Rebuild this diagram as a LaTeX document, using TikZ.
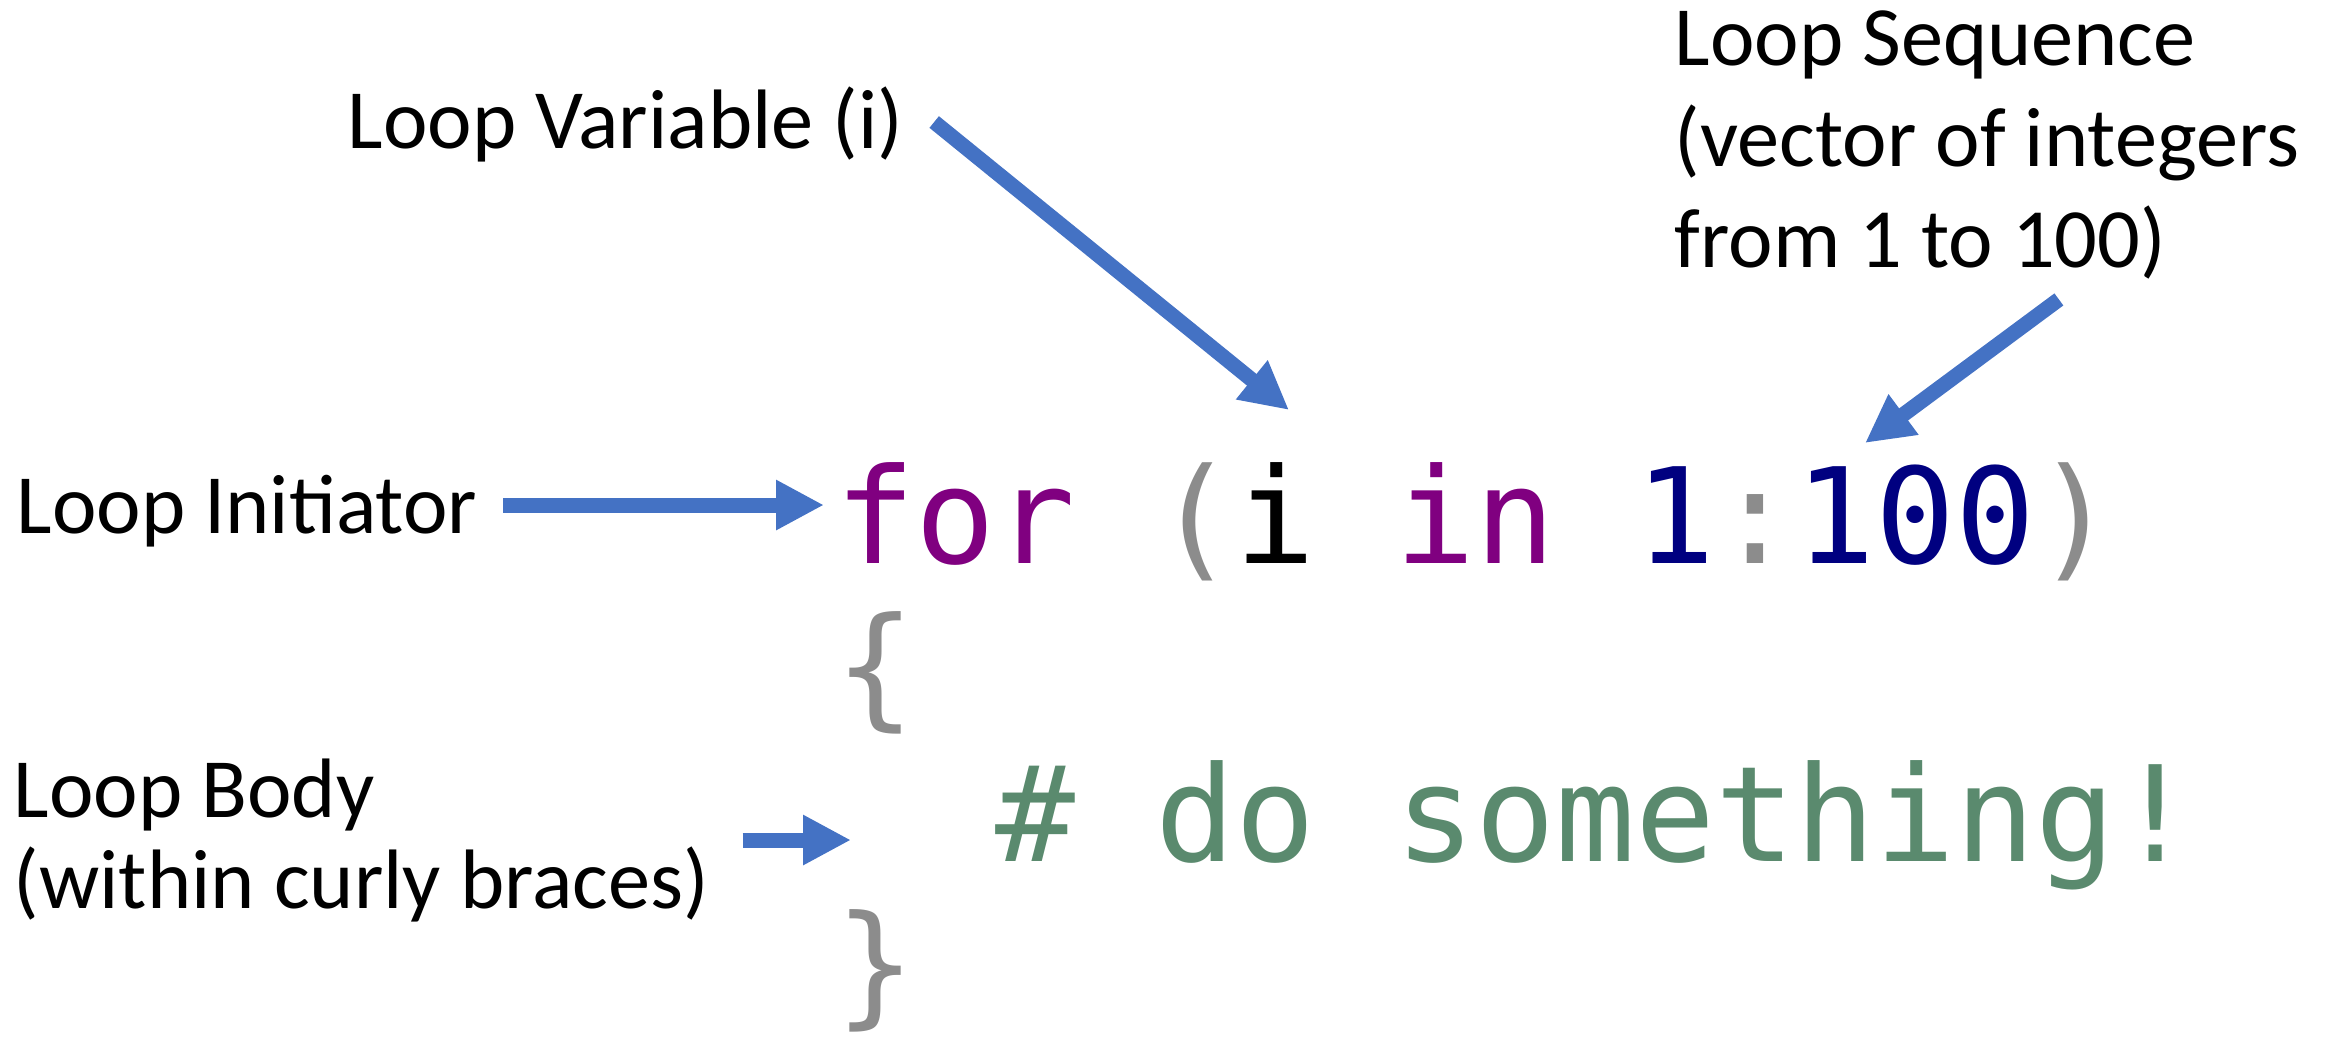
\documentclass[tikz,border=0pt]{standalone}
\usepackage{fontspec}
\usetikzlibrary{arrows.meta}

\newfontfamily\labelfont{Carlito}
\newfontfamily\codefont{DejaVu Sans Mono}

\definecolor{arrowblue}{HTML}{4472C4}
\definecolor{kwpurple}{HTML}{800080}
\definecolor{numnavy}{HTML}{000080}
\definecolor{punctgray}{HTML}{8C8C8C}
\definecolor{commentgreen}{HTML}{5A8A6E}

\begin{document}
\begin{tikzpicture}[
    pointer/.style={
      draw=arrowblue,
      line width=1.5mm,
      -{Triangle[length=4.8mm,width=4.7mm]}
    },
    lbl/.style={
      font=\labelfont\fontsize{24}{28.7}\selectfont,
      inner sep=0pt,
      align=left,
      anchor=base west
    },
    codeline/.style={
      font=\codefont\fontsize{37.8}{40}\selectfont,
      inner sep=0pt,
      anchor=base west
    }
  ]
    \useasboundingbox (0,0) rectangle (23.39,-10.38);

    % Code snippet
    \node[codeline] (forline) at (8.35,-5.63) {\textcolor{kwpurple}{for} \textcolor{punctgray}{(}i \textcolor{kwpurple}{in} \textcolor{numnavy}{1}\textcolor{punctgray}{:}\textcolor{numnavy}{100}\textcolor{punctgray}{)}};
    \node[codeline, text=punctgray] (lbrace) at (8.35,-7.12) {\{};
    \node[codeline, text=commentgreen] (bodyline) at (9.95,-8.61) {\# do something!};
    \node[codeline, text=punctgray] (rbrace) at (8.35,-10.10) {\}};

    % Labels (multi-line ones sit on their last baseline)
    \node[lbl] (var) at (3.47,-1.48) {Loop Variable (i)};
    \node[lbl] (seq) at (16.74,-2.67) {Loop Sequence\\(vector of integers\\from 1 to 100)};
    \node[lbl] (init) at (0.16,-5.33) {Loop Initiator};
    \node[lbl, font=\labelfont\fontsize{24}{25.8}\selectfont] (body) at (0.13,-9.08) {Loop Body\\(within curly braces)};

    % Arrow tips
    \coordinate (var tip) at (12.89,-4.10);
    \coordinate (seq tip) at (18.65,-4.43);
    \coordinate (init tip) at (8.24,-5.05);
    \coordinate (body tip) at (8.51,-8.40);

    % Arrows
    \draw[pointer] ([shift={(0.30,0.26)}]var.base east) -- (var tip);
    \draw[pointer] ([shift={(0.72,-0.20)}]seq.south) -- (seq tip);
    \draw[pointer] ([xshift=2.5mm]init.base east |- init tip) -- (init tip);
    \draw[pointer] ([xshift=3.3mm]body.east |- body tip) -- (body tip);

  \end{tikzpicture}
\end{document}
